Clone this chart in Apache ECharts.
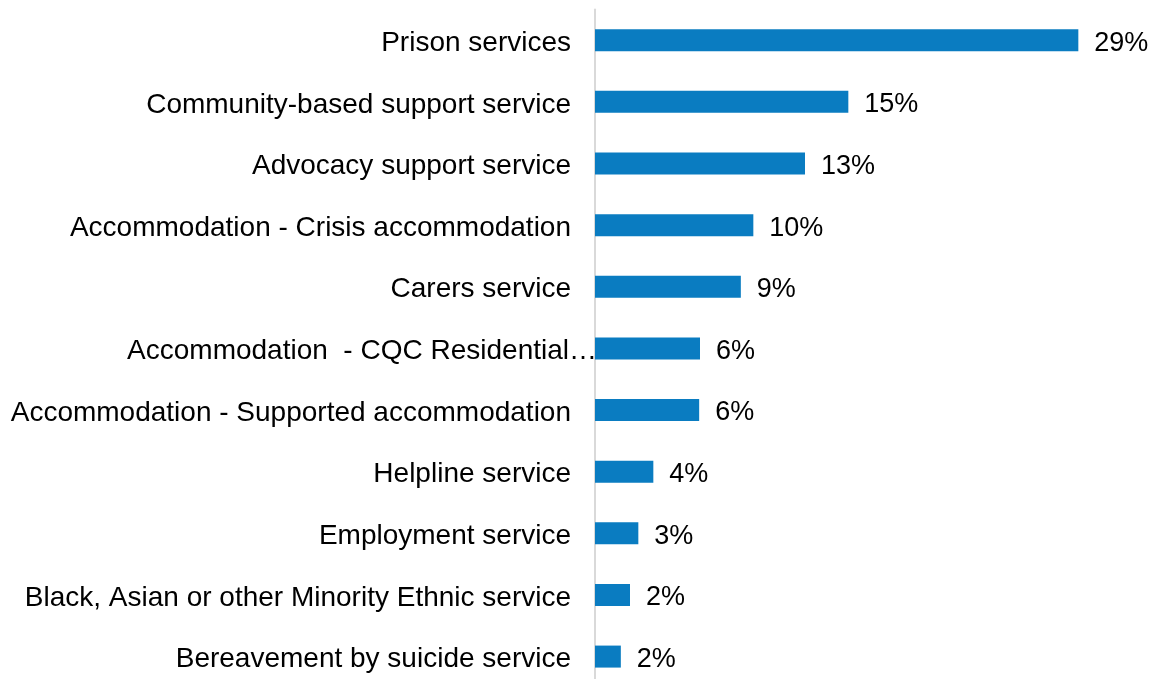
<!DOCTYPE html>
<html>
<head>
<meta charset="utf-8">
<title>Services</title>
<script src="https://cdn.jsdelivr.net/npm/echarts@6/dist/echarts.min.js"></script>
<style>
  html, body { margin: 0; padding: 0; background: #ffffff; overflow: hidden; }
  /* the last band runs slightly past the bottom edge of the window */
  #chart { width: 1157px; height: 690px; }
</style>
</head>
<body>
<div id="chart"></div>
<script>
// Service categories, top to bottom
const categories = [
  'Prison services',
  'Community-based support service',
  'Advocacy support service',
  'Accommodation - Crisis accommodation',
  'Carers service',
  'Accommodation  - CQC Residential\u2026',
  'Accommodation - Supported accommodation',
  'Helpline service',
  'Employment service',
  'Black, Asian or other Minority Ethnic service',
  'Bereavement by suicide service'
];

// Share of services (%), shown rounded to whole percent
const shares = [29.0, 15.2, 12.6, 9.5, 8.75, 6.3, 6.25, 3.5, 2.6, 2.1, 1.55];

const FONT = '"Liberation Sans", Arial, sans-serif';
const BAR_COLOR = '#0a7cc1';

const chart = echarts.init(document.getElementById('chart'), null, { renderer: 'canvas' });

chart.setOption({
  animation: false,
  backgroundColor: '#ffffff',
  grid: { left: 595, top: 9.4, width: 500, height: 678, containLabel: false },
  xAxis: {
    type: 'value',
    min: 0,
    max: 30,
    show: false
  },
  yAxis: {
    type: 'category',
    inverse: true,
    data: categories,
    axisLine: { show: true, lineStyle: { color: '#d9d9d9', width: 2 } },
    axisTick: { show: false },
    splitLine: { show: false },
    axisLabel: {
      margin: 24,
      color: '#000000',
      fontFamily: FONT,
      fontSize: 28,
      verticalAlign: 'top',
      lineHeight: 6,
      interval: 0,
      // the truncated name runs on up to the axis line
      formatter: function (v) {
        return v.endsWith('\u2026') ? '{wide|' + v + '}' : v;
      },
      rich: {
        wide: {
          fontFamily: FONT,
          fontSize: 28,
          color: '#000000',
          lineHeight: 6,
          padding: [0, -26, 0, 0]
        }
      }
    }
  },
  series: [{
    type: 'bar',
    data: shares,
    barWidth: 22,
    itemStyle: { color: BAR_COLOR },
    label: {
      show: true,
      position: 'right',
      distance: 16,
      color: '#000000',
      fontFamily: FONT,
      fontSize: 27,
      verticalAlign: 'top',
      lineHeight: 6,
      formatter: function (p) { return Math.round(p.value) + '%'; }
    }
  }]
});
</script>
</body>
</html>
